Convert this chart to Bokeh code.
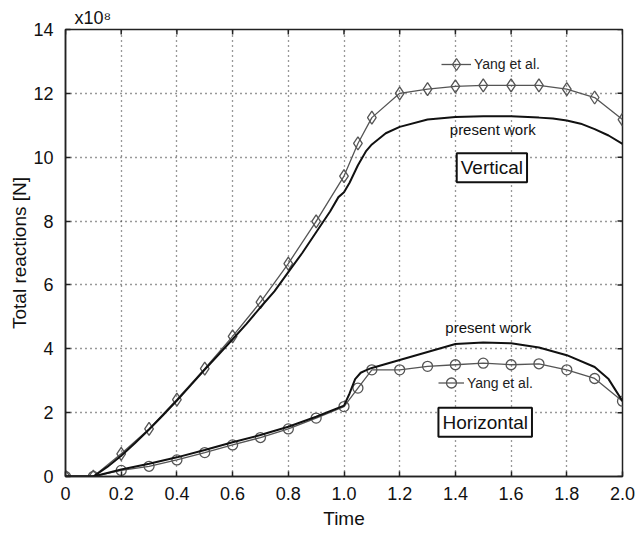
from bokeh.plotting import figure
from bokeh.models import (Label, Legend, LegendItem, FixedTicker,
                          ColumnDataSource, Title)
from bokeh.embed import file_html
from bokeh.resources import INLINE

# ---- data (values in units of 1e8 N) ----
t_yang = [0.0, 0.1, 0.2, 0.3, 0.4, 0.5, 0.6, 0.7, 0.8, 0.9, 1.0, 1.05, 1.1,
          1.2, 1.3, 1.4, 1.5, 1.6, 1.7, 1.8, 1.9, 2.0]
yang_vertical = [0.0, 0.0, 0.71, 1.49, 2.41, 3.38, 4.39, 5.46, 6.67, 7.99, 9.41,
                 10.43, 11.24, 12.0, 12.13, 12.22, 12.25, 12.25, 12.25, 12.13,
                 11.87, 11.18]
yang_horizontal = [0.0, 0.0, 0.19, 0.32, 0.52, 0.75, 0.99, 1.22, 1.49, 1.83,
                   2.19, 2.77, 3.34, 3.34, 3.45, 3.50, 3.55, 3.50, 3.53, 3.34,
                   3.07, 2.36]

t_pv = [0.0, 0.1, 0.15, 0.2, 0.25, 0.3, 0.35, 0.4, 0.45, 0.5, 0.55, 0.6, 0.65,
        0.7, 0.75, 0.8, 0.85, 0.9, 0.95, 0.98, 1.0, 1.02, 1.05, 1.08, 1.1, 1.15,
        1.2, 1.3, 1.4, 1.5, 1.6, 1.7, 1.75, 1.8, 1.85, 1.9, 1.95, 2.0]
present_vertical = [0.0, 0.0, 0.3, 0.65, 1.05, 1.47, 1.92, 2.38, 2.86, 3.35,
                    3.82, 4.3, 4.78, 5.3, 5.8, 6.4, 7.0, 7.65, 8.3, 8.75, 8.9,
                    9.2, 9.75, 10.2, 10.4, 10.75, 10.95, 11.18, 11.26, 11.28,
                    11.28, 11.24, 11.21, 11.15, 11.05, 10.88, 10.68, 10.42]

t_ph = [0.0, 0.1, 0.2, 0.3, 0.4, 0.5, 0.6, 0.7, 0.8, 0.9, 1.0, 1.02, 1.04, 1.06,
        1.08, 1.1, 1.2, 1.3, 1.4, 1.5, 1.6, 1.7, 1.8, 1.9, 1.95, 2.0]
present_horizontal = [0.0, 0.0, 0.22, 0.4, 0.6, 0.83, 1.07, 1.3, 1.56, 1.87,
                      2.22, 2.6, 3.05, 3.25, 3.33, 3.4, 3.65, 3.9, 4.15, 4.2,
                      4.17, 4.04, 3.8, 3.43, 3.05, 2.36]

x_ticks = [0, 0.2, 0.4, 0.6, 0.8, 1.0, 1.2, 1.4, 1.6, 1.8, 2.0]
x_tick_labels = ["0", "0.2", "0.4", "0.6", "0.8", "1.0", "1.2", "1.4", "1.6",
                 "1.8", "2.0"]
y_ticks = [0, 2, 4, 6, 8, 10, 12, 14]
x_lo, x_hi = x_ticks[0], x_ticks[-1]
y_lo, y_hi = y_ticks[0], y_ticks[-1]

FONT = "Liberation Sans"
W, H = 638, 537
ML, MR, MT, MB = 65, 16, 29, 61

p = figure(width=W, height=H, x_range=(x_lo, x_hi), y_range=(y_lo, y_hi),
           output_backend="svg", toolbar_location=None,
           x_axis_label="Time", y_axis_label="Total reactions [N]",
           min_border_left=ML, min_border_right=MR, min_border_top=MT,
           min_border_bottom=MB)
p.background_fill_color = "white"
p.border_fill_color = "white"
p.outline_line_color = "#222222"
p.outline_line_width = 1.5

# exponent as title
ttl = Title(text="x10\u2078", align="left", offset=9, standoff=3,
            text_font=FONT, text_font_size="18px", text_font_style="normal",
            text_color="#111111")
p.add_layout(ttl, "above")

# grid
for g in (p.xgrid, p.ygrid):
    g.grid_line_color = "#333333"
    g.grid_line_dash = "1 4"
    g.grid_line_width = 1.3
p.xgrid.ticker = FixedTicker(ticks=x_ticks)
p.ygrid.ticker = FixedTicker(ticks=y_ticks)

# main axes
xa = p.xaxis[0]
ya = p.yaxis[0]
xa.ticker = FixedTicker(ticks=x_ticks)
xa.major_label_overrides = {v: s for v, s in zip(x_ticks, x_tick_labels)}
ya.ticker = FixedTicker(ticks=y_ticks)
for ax in (xa, ya):
    ax.major_tick_in = 5
    ax.major_tick_out = 0
    ax.minor_tick_line_color = None
    ax.axis_line_color = "#222222"
    ax.axis_line_width = 1.5
    ax.major_tick_line_color = "#222222"
    ax.major_tick_line_width = 1.5
    ax.major_label_text_font = FONT
    ax.major_label_text_font_size = "18px"
    ax.major_label_text_color = "#111111"
    ax.axis_label_text_font = FONT
    ax.axis_label_text_font_size = "19px"
    ax.axis_label_text_font_style = "normal"
    ax.axis_label_text_color = "#111111"
xa.major_label_standoff = 10
xa.axis_label_standoff = 5
ya.major_label_standoff = 12
ya.axis_label_standoff = 0

# inward ticks on the top and right edges (5 px long)
fw = W - ML - MR
fh = H - MT - MB
dy = 5 * (y_hi - y_lo) / fh
dx = 5 * (x_hi - x_lo) / fw
p.segment(x0=x_ticks, y0=[y_hi] * len(x_ticks), x1=x_ticks,
          y1=[y_hi - dy] * len(x_ticks), line_color="#222222", line_width=1.5)
p.segment(x0=[x_hi] * len(y_ticks), y0=y_ticks, x1=[x_hi - dx] * len(y_ticks),
          y1=y_ticks, line_color="#222222", line_width=1.5)

# curves
src_yang = ColumnDataSource(dict(t=t_yang, v=yang_vertical, h=yang_horizontal))
src_pv = ColumnDataSource(dict(t=t_pv, v=present_vertical))
src_ph = ColumnDataSource(dict(t=t_ph, h=present_horizontal))

YC = "#555555"
lv = p.line("t", "v", source=src_yang, line_color=YC, line_width=1.3)
sv = p.scatter("t", "v", source=src_yang, marker="diamond", size=13,
               line_color=YC, line_width=1.3, fill_color=None)
lh = p.line("t", "h", source=src_yang, line_color=YC, line_width=1.3)
sh = p.scatter("t", "h", source=src_yang, marker="circle", size=10,
               line_color=YC, line_width=1.3, fill_color=None)
p.line("t", "v", source=src_pv, line_color="#111111", line_width=2)
p.line("t", "h", source=src_ph, line_color="#111111", line_width=2)

# small legends
def mini_legend(renderers, loc, gw, gh):
    lg = Legend(items=[LegendItem(label="Yang et al.", renderers=renderers)],
                location=loc, border_line_color=None,
                background_fill_alpha=0, padding=0, margin=0,
                glyph_width=gw, glyph_height=gh, label_standoff=3,
                label_text_font=FONT, label_text_font_size="14px",
                label_text_color="#222222", label_height=gh)
    p.add_layout(lg, "center")

mini_legend([lv, sv], (376, 397), 30, 30)
mini_legend([lh, sh], (373, 81), 26, 25)

# text annotations
def txt(x, y, s, size, box=False):
    lab = Label(x=x, y=y, text=s, text_font=FONT, text_font_size=size,
                text_align="center", text_baseline="middle",
                text_color="#111111")
    if box:
        lab.border_line_color = "#111111"
        lab.border_line_width = 2
        lab.background_fill_color = "white"
        lab.padding = 4
    p.add_layout(lab)

txt(1.534, 10.88, "present work", "15px")
txt(1.518, 4.68, "present work", "15px")
txt(1.531, 9.67, "Vertical", "19px", box=True)
txt(1.507, 1.70, "Horizontal", "19px", box=True)

open("out.html", "w").write(file_html(p, INLINE))
